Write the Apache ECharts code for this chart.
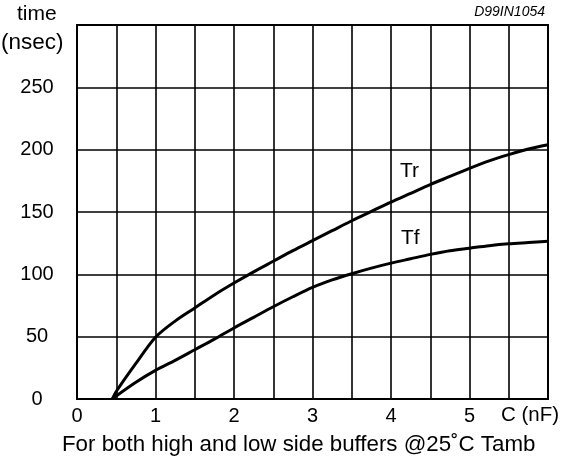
<!DOCTYPE html>
<html>
<head>
<meta charset="utf-8">
<script src="https://cdn.jsdelivr.net/npm/echarts@6/dist/echarts.min.js"></script>
<style>html,body{margin:0;padding:0;background:#fff}#c{width:564px;height:461px}</style>
</head>
<body>
<div id="c"></div>
<script>
var xTicks = [0, 1, 2, 3, 4, 5];
var yTicks = [0, 50, 100, 150, 200, 250];
var capC = [0.45, 0.5, 0.75, 1, 1.25, 1.5, 1.75, 2, 2.25, 2.5, 2.75, 3, 3.25, 3.5, 3.75, 4, 4.25, 4.5, 4.75, 5, 5.25, 5.5, 5.75, 6];
var trT = [0, 6, 28.5, 49.5, 62.5, 73, 83.5, 93, 102, 110.5, 119, 127, 135, 143, 150.5, 158, 165, 172, 178.5, 185, 191, 196, 200.5, 204];
var tfT = [0, 2.5, 13.5, 23, 31, 39.5, 48, 57, 65.5, 74, 82, 89.5, 95.5, 100.5, 105, 109, 112.5, 116, 119, 121, 123, 124.5, 125.5, 126.5];

function pairs(xs, ys) { return xs.map(function (x, i) { return [x, ys[i]]; }); }

var FONT = '"Liberation Sans", Arial, sans-serif';
var chart = echarts.init(document.getElementById('c'), null, {renderer: 'canvas'});
chart.setOption({
  animation: false,
  backgroundColor: '#fff',
  grid: {left: 77, right: 16, top: 25, bottom: 62, show: true, borderColor: '#000', borderWidth: 2},
  xAxis: {
    type: 'value', min: 0, max: 6, interval: 0.5,
    axisLine: {show: true, lineStyle: {color: '#000', width: 2}},
    axisTick: {show: false},
    splitLine: {show: true, lineStyle: {color: '#000', width: 1.6}},
    axisLabel: {
      color: '#000', fontFamily: FONT, fontSize: 20, margin: 7,
      formatter: function (v) { return xTicks.indexOf(v) >= 0 ? String(v) : ''; }
    }
  },
  yAxis: {
    type: 'value', min: 0, max: 300, interval: 50,
    axisLine: {show: true, lineStyle: {color: '#000', width: 2}},
    axisTick: {show: false},
    splitLine: {show: true, lineStyle: {color: '#000', width: 1.6}},
    axisLabel: {
      color: '#000', fontFamily: FONT, fontSize: 20, margin: 40, align: 'center',
      formatter: function (v) { return yTicks.indexOf(v) >= 0 ? String(v) : ''; }
    }
  },
  series: [
    {name: 'Tr', type: 'line', data: pairs(capC, trT), smooth: 0.3, showSymbol: false,
     lineStyle: {color: '#000', width: 3}},
    {name: 'Tf', type: 'line', data: pairs(capC, tfT), smooth: 0.3, showSymbol: false,
     lineStyle: {color: '#000', width: 3}}
  ],
  graphic: [
    {type: 'text', left: 17, top: 4, style: {text: 'time', fontFamily: FONT, fontSize: 21, fill: '#000'}},
    {type: 'text', left: 1, top: 31, style: {text: '(nsec)', fontFamily: FONT, fontSize: 22.5, fill: '#000'}},
    {type: 'text', right: 19, top: 5, style: {text: 'D99IN1054', fontFamily: FONT, fontSize: 14, fontStyle: 'italic', fill: '#000'}},
    {type: 'text', left: 501, top: 405, style: {text: 'C (nF)', fontFamily: FONT, fontSize: 20.5, fill: '#000'}},
    {type: 'text', left: 62, top: 434, style: {text: 'For both high and low side buffers @25˚C Tamb', fontFamily: FONT, fontSize: 22.3, fill: '#000'}},
    {type: 'text', left: 400, top: 161, style: {text: 'Tr', fontFamily: FONT, fontSize: 21, fill: '#000'}},
    {type: 'text', left: 401, top: 228, style: {text: 'Tf', fontFamily: FONT, fontSize: 21, fill: '#000'}}
  ]
});
</script>
</body>
</html>
